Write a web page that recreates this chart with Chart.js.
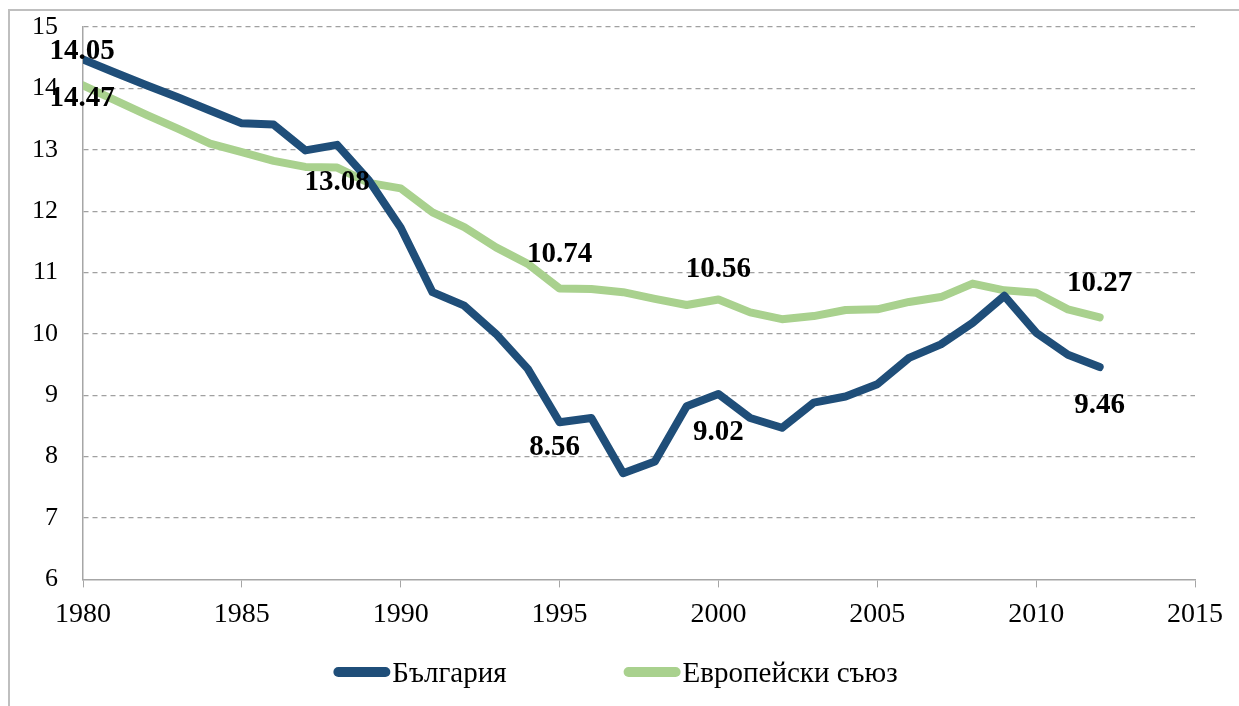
<!DOCTYPE html>
<html lang="bg">
<head>
  <meta charset="UTF-8">
  <title>България и Европейски съюз</title>
  <script src="https://cdn.jsdelivr.net/npm/chart.js"></script>
  <style>
    html, body {
      margin: 0;
      padding: 0;
      background: #fff;
      overflow: hidden;
    }
    .frame {
      position: absolute;
      left: 8px;
      top: 9px;
      width: 1240px;
      height: 710px;
      border-top: 2px solid #bfbfbf;
      border-left: 2px solid #bfbfbf;
    }
    .chart-container {
      position: absolute;
      left: 0;
      top: 0;
      width: 1239px;
      height: 706px;
    }
  </style>
</head>
<body>
  <div class="frame"></div>
  <div class="chart-container">
    <canvas id="rateChart"></canvas>
  </div>

  <script>
    const years = [1980, 1981, 1982, 1983, 1984, 1985, 1986, 1987, 1988, 1989,
                   1990, 1991, 1992, 1993, 1994, 1995, 1996, 1997, 1998, 1999,
                   2000, 2001, 2002, 2003, 2004, 2005, 2006, 2007, 2008, 2009,
                   2010, 2011, 2012];

    const bulgaria = [14.47, 14.26, 14.05, 13.85, 13.64, 13.43, 13.41, 12.99, 13.08, 12.50,
                      11.73, 10.68, 10.46, 10.00, 9.43, 8.56, 8.63, 7.73, 7.92, 8.82,
                      9.02, 8.63, 8.47, 8.88, 8.98, 9.18, 9.61, 9.83, 10.18, 10.62,
                      10.02, 9.66, 9.46];

    const eu = [14.05, 13.81, 13.57, 13.34, 13.10, 12.96, 12.82, 12.72, 12.71, 12.46,
                12.37, 11.98, 11.74, 11.41, 11.14, 10.74, 10.73, 10.68, 10.57, 10.47,
                10.56, 10.35, 10.24, 10.29, 10.39, 10.40, 10.52, 10.60, 10.82, 10.71,
                10.67, 10.40, 10.27];

    const seriesNames = ['България', 'Европейски съюз'];
    const seriesColors = ['#1f4e79', '#a9d18e'];

    // value labels as printed on the chart: [series index, year, text]
    const valueLabels = [
      [0, 1980, '14.05'],
      [1, 1980, '14.47'],
      [0, 1988, '13.08'],
      [1, 1995, '10.74'],
      [1, 2000, '10.56'],
      [1, 2012, '10.27'],
      [0, 1995, '8.56'],
      [0, 2000, '9.02'],
      [0, 2012, '9.46']
    ];
    // pixel offsets of each label from its point
    const labelOffsets = [
      [-1, -8], [-1, 13], [0, 38], [0, -34], [0, -30], [0, -34], [-5, 25], [0, 38], [0, 38]
    ];

    const serif = "'Liberation Serif', 'Times New Roman', serif";

    const valueLabelPlugin = {
      id: 'valueLabels',
      afterDatasetsDraw(chart) {
        const ctx = chart.ctx;
        const xs = chart.scales.x;
        const ys = chart.scales.y;
        ctx.save();
        ctx.font = 'bold 29px ' + serif;
        ctx.fillStyle = '#000';
        ctx.textAlign = 'center';
        ctx.textBaseline = 'middle';
        valueLabels.forEach(([s, yr, text], i) => {
          const idx = years.indexOf(yr);
          const val = chart.data.datasets[s].data[idx].y;
          const [dx, dy] = labelOffsets[i];
          ctx.fillText(text, xs.getPixelForValue(yr) + dx, ys.getPixelForValue(val) + dy);
        });
        ctx.restore();
      }
    };

    const legendPlugin = {
      id: 'bottomLegend',
      afterDraw(chart) {
        const ctx = chart.ctx;
        const sample = 57, gap = 2, itemGap = 117, cy = 672;
        ctx.save();
        ctx.font = '29px ' + serif;
        const widths = chart.data.datasets.map(d => ctx.measureText(d.label).width);
        const total = widths.reduce((a, w) => a + sample + gap + w, 0) + itemGap * (widths.length - 1);
        let x = (chart.width - total) / 2 - 4;
        chart.data.datasets.forEach((d, i) => {
          ctx.fillStyle = d.borderColor;
          ctx.beginPath();
          ctx.roundRect(x, cy - 5, sample, 10, 5);
          ctx.fill();
          ctx.fillStyle = '#000';
          ctx.textAlign = 'left';
          ctx.textBaseline = 'middle';
          ctx.fillText(d.label, x + sample + gap, cy + 2);
          x += sample + gap + widths[i] + itemGap;
        });
        ctx.restore();
      }
    };

    const makeData = vals => years.map((yr, i) => ({ x: yr, y: vals[i] }));

    new Chart(document.getElementById('rateChart'), {
      type: 'line',
      data: {
        datasets: [
          {
            label: seriesNames[0],
            data: makeData(bulgaria),
            borderColor: seriesColors[0],
            backgroundColor: seriesColors[0],
            borderWidth: 8,
            pointRadius: 0,
            tension: 0,
            borderJoinStyle: 'round',
            borderCapStyle: 'round'
          },
          {
            label: seriesNames[1],
            data: makeData(eu),
            borderColor: seriesColors[1],
            backgroundColor: seriesColors[1],
            borderWidth: 8,
            pointRadius: 0,
            tension: 0,
            borderJoinStyle: 'round',
            borderCapStyle: 'round'
          }
        ]
      },
      options: {
        responsive: true,
        maintainAspectRatio: false,
        animation: false,
        layout: {
          padding: { left: 30, right: 44, top: 27, bottom: 65 }
        },
        scales: {
          x: {
            type: 'linear',
            min: 1980,
            max: 2015,
            ticks: {
              stepSize: 5,
              color: '#000',
              padding: 10,
              maxRotation: 0,
              font: { family: serif, size: 28 },
              callback: v => String(v)
            },
            grid: {
              drawOnChartArea: false,
              drawTicks: true,
              tickLength: 8,
              color: '#a6a6a6'
            },
            border: { color: '#a6a6a6', width: 1.5 }
          },
          y: {
            min: 6,
            max: 15,
            ticks: {
              stepSize: 1,
              color: '#000',
              padding: 2,
              font: { family: serif, size: 26 }
            },
            grid: {
              drawTicks: true,
              tickLength: 23,
              tickColor: 'rgba(0,0,0,0)',
              color: ctx => ctx.tick && ctx.tick.value === 6 ? 'rgba(0,0,0,0)' : '#a0a0a0',
              lineWidth: 1.2
            },
            border: { color: '#a6a6a6', width: 1.5, dash: [5, 4] }
          }
        },
        plugins: {
          legend: { display: false },
          tooltip: { enabled: false }
        }
      },
      plugins: [valueLabelPlugin, legendPlugin]
    });
  </script>
</body>
</html>
